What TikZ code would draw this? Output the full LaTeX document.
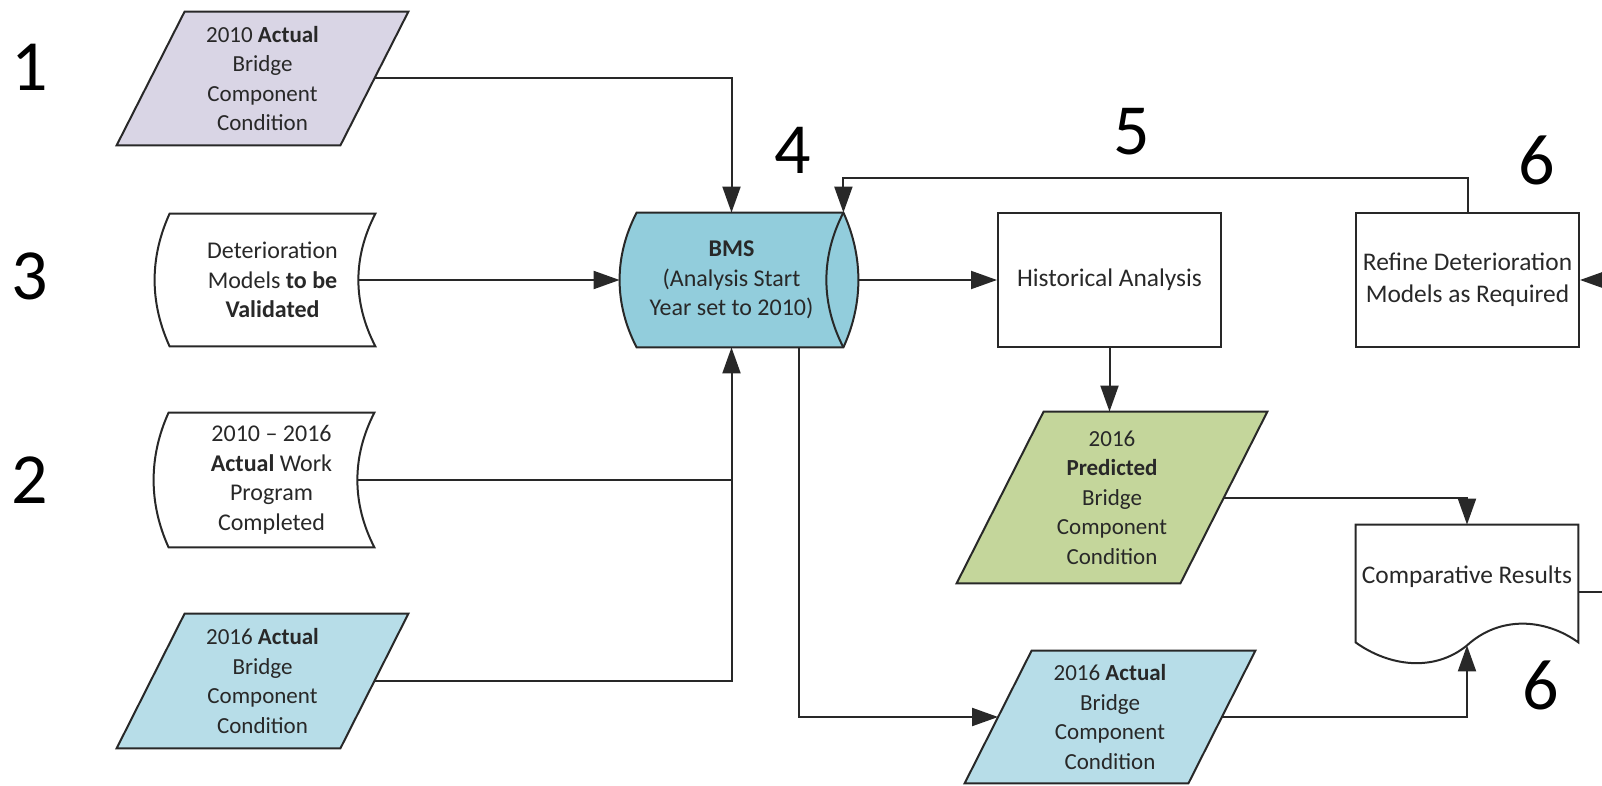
\documentclass[tikz,border=0pt]{standalone}
\usepackage{fontspec}
\setmainfont{Carlito}
\usetikzlibrary{arrows.meta,calc,backgrounds}
\definecolor{lav}{RGB}{217,213,229}
\definecolor{bmsblue}{RGB}{146,205,220}
\definecolor{ltblue}{RGB}{183,221,232}
\definecolor{olivefill}{RGB}{196,214,155}
\definecolor{ink}{RGB}{40,40,40}
\begin{document}
\begin{tikzpicture}[x=0.5pt,y=-0.5pt,
  box/.style={draw=none, inner sep=0pt, align=center, text=ink,
    font=\fontsize{11.5}{14.75}\selectfont},
  sbox/.style={box, font=\fontsize{12}{14.75}\selectfont},
  rectbox/.style={box, draw=ink, line width=1pt, font=\fontsize{12.7}{16}\selectfont},
  outline/.style={draw=ink, line width=1pt, line join=miter},
  arr/.style={draw=ink, line width=1pt, -{Triangle[length=13pt,width=9pt]}},
  conn/.style={draw=ink, line width=1pt},
  num/.style={inner sep=0pt, font=\fontsize{36}{40}\selectfont}]
\useasboundingbox (0,0) rectangle (1602,786);

% ---------- nodes ----------
\node[box, minimum width=111.5pt, minimum height=66.5pt] (p1) at (262.5,78.5)
  {2010 \textbf{Actual}\\Bridge\\Component\\Condition};
\node[sbox, minimum width=102.5pt, minimum height=66pt] (s3) at (272.5,280)
  {Deterioration\\Models \textbf{to be}\\\textbf{Validated}};
\node[sbox, minimum width=102.5pt, minimum height=67pt] (s2) at (271.5,480)
  {2010 -- 2016\\\textbf{Actual} Work\\Program\\Completed};
\node[box, minimum width=111.5pt, minimum height=67pt] (p4) at (262.5,681)
  {2016 \textbf{Actual}\\Bridge\\Component\\Condition};
\node[sbox, minimum width=111.5pt, minimum height=67pt] (bms) at (731.5,280)
  {\textbf{BMS}\\(Analysis Start\\Year set to 2010)};
\node[rectbox, minimum width=111.5pt, minimum height=67pt] (ha) at (1109.5,280)
  {Historical Analysis};
\node[rectbox, minimum width=111.5pt, minimum height=67pt] (rf) at (1467.5,280)
  {Refine Deterioration\\Models as Required};
\node[box, minimum width=111.5pt, minimum height=85.5pt] (pp) at (1112,497.5)
  {2016\\\textbf{Predicted}\\Bridge\\Component\\Condition};
\node[box, minimum width=111.5pt, minimum height=66pt] (p2a) at (1110,717)
  {2016 \textbf{Actual}\\Bridge\\Component\\Condition};
\node[box, minimum width=111pt, minimum height=52pt,
  font=\fontsize{12.7}{16}\selectfont] (cr) at (1467,577)
  {Comparative Results};

\node[num] (n1) at (30,67) {1};
\node[num] (n3) at (30,276) {3};
\node[num] (n2) at (30,480) {2};
\node[num] (n4) at (793,150) {4};
\node[num] (n5) at (1132,132) {5};
\node[num] (n6a) at (1537,160) {6};
\node[num] (n6b) at (1541,685) {6};

\coordinate (redge) at (1602,280);
\coordinate (redge2) at (1602,592);

% ---------- outlines ----------
\begin{scope}[on background layer]
  % parallelograms
  \path[outline, fill=lav] ($(p1.north east)+(34,0)$) -- ($(p1.south east)+(-34,0)$)
    -- ($(p1.south west)+(-34,0)$) -- ($(p1.north west)+(34,0)$) -- cycle;
  \path[outline, fill=ltblue] ($(p4.north east)+(34,0)$) -- ($(p4.south east)+(-34,0)$)
    -- ($(p4.south west)+(-34,0)$) -- ($(p4.north west)+(34,0)$) -- cycle;
  \path[outline, fill=olivefill] ($(pp.north east)+(43.5,0)$) -- ($(pp.south east)+(-43.5,0)$)
    -- ($(pp.south west)+(-43.5,0)$) -- ($(pp.north west)+(43.5,0)$) -- cycle;
  \path[outline, fill=ltblue] ($(p2a.north east)+(33.5,0)$) -- ($(p2a.south east)+(-33.5,0)$)
    -- ($(p2a.south west)+(-33.5,0)$) -- ($(p2a.north west)+(33.5,0)$) -- cycle;
  % stored data shapes
  \path[outline, fill=white] (s3.north west) -- (s3.north east)
    .. controls ($(s3.north east)+(-22.7,44)$) and ($(s3.south east)+(-22.7,-44)$) .. (s3.south east)
    -- (s3.south west)
    .. controls ($(s3.south west)+(-20,-44)$) and ($(s3.north west)+(-20,44)$) .. (s3.north west) -- cycle;
  \path[outline, fill=white] (s2.north west) -- (s2.north east)
    .. controls ($(s2.north east)+(-22.7,44)$) and ($(s2.south east)+(-22.7,-44)$) .. (s2.south east)
    -- (s2.south west)
    .. controls ($(s2.south west)+(-20,-44)$) and ($(s2.north west)+(-20,44)$) .. (s2.north west) -- cycle;
  % BMS direct data
  \path[outline, fill=bmsblue] ($(bms.north west)+(17,0)$) -- (bms.north east)
    .. controls ($(bms.north east)+(20,44)$) and ($(bms.south east)+(20,-44)$) .. (bms.south east)
    -- ($(bms.south west)+(17,0)$)
    .. controls ($(bms.south west)+(-5.7,-44)$) and ($(bms.north west)+(-5.7,44)$) .. ($(bms.north west)+(17,0)$) -- cycle;
  \path[outline] (bms.north east)
    .. controls ($(bms.north east)+(-22.7,44)$) and ($(bms.south east)+(-22.7,-44)$) .. (bms.south east);
  % document
  \path[outline, fill=white] (cr.north west) -- (cr.north east) -- ($(cr.south east)+(0,13)$)
    .. controls ($(cr.south)+(78,-11)$) and ($(cr.south)+(33,-14)$) .. ($(cr.south)+(0,16)$)
    .. controls ($(cr.south)+(-33,43)$) and ($(cr.south)+(-78,37)$) .. ($(cr.south west)+(0,13)$)
    -- cycle;
\end{scope}

% ---------- connectors ----------
\draw[arr] (p1.east) -| (bms.north);
\draw[arr] ($(s3.east)+(-17,0)$) -- (bms.west);
\draw[conn] ($(s2.east)+(-17,0)$) -- (bms.south |- s2.east);
\draw[arr] (p4.east) -| (bms.south);
\draw[arr] ($(bms.east)+(15,0)$) -- (ha.west);
\draw[arr] (rf.north) -- ++(0,-34) -| (bms.north east);
\draw[arr] (redge) -- (rf.east);
\draw[arr] (ha.south) -- (ha.south |- pp.north);
\draw[arr] (pp.east) -| (cr.north);
\draw[arr] ($(bms.south)+(67.5,0)$) |- (p2a.west);
\draw[arr] (p2a.east) -| ($(cr.south)+(0,16)$);
\draw[conn] ($(cr.east)+(0,15)$) -- (redge2);
\end{tikzpicture}
\end{document}
